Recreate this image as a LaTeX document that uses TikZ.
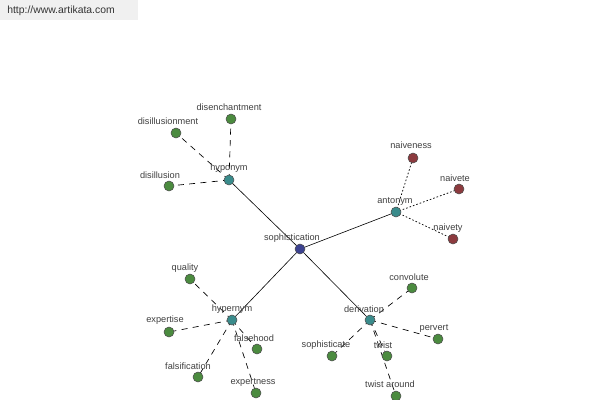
\documentclass[tikz,border=0pt]{standalone}
\usepackage{fontspec}
\setmainfont{Liberation Sans}
\begin{document}
\begin{tikzpicture}[x=0.75pt,y=-0.75pt,
  dot/.style={circle,draw=black!70,line width=0.4pt,minimum size=7.5pt,inner sep=0pt},
  leaf/.style={dot,fill=leafgreen},
  hub/.style={dot,fill=hubteal},
  anto/.style={dot,fill=antored},
  core/.style={dot,fill=corenavy},
  lbl/.style={font=\fontsize{6.9pt}{8pt}\selectfont,text=black!75,inner sep=0pt},
  solidedge/.style={draw=black,line width=0.45pt},
  dashedge/.style={draw=black,line width=0.5pt,dash pattern=on 4.5pt off 4pt},
  dotedge/.style={draw=black,line width=0.55pt,dash pattern=on 1.2pt off 1.5pt}]
\definecolor{leafgreen}{HTML}{4B8B3F}
\definecolor{hubteal}{HTML}{3A8C8C}
\definecolor{antored}{HTML}{8C3A3E}
\definecolor{corenavy}{HTML}{3C4290}
\useasboundingbox (0,0) rectangle (600,400);
\fill[white] (0,0) rectangle (600,400);
\fill[black!6] (0,0) rectangle (138,20);
\node[anchor=west,inner sep=0pt,text=black!80,font=\fontsize{7.8pt}{9pt}\selectfont] (url) at (7,11) {http://www.artikata.com};
% node positions
\coordinate (pc) at (300,249);
\coordinate (phypo) at (229,180);
\coordinate (panto) at (396,212);
\coordinate (phyper) at (232,320);
\coordinate (pderiv) at (370,320);
% edges first
\path[solidedge] (pc) -- (phypo);
\path[solidedge] (pc) -- (panto);
\path[solidedge] (pc) -- (phyper);
\path[solidedge] (pc) -- (pderiv);
\path[dashedge] (phypo) -- (231,119);
\path[dashedge] (phypo) -- (176,133);
\path[dashedge] (phypo) -- (169,186);
\path[dotedge] (panto) -- (413,158);
\path[dotedge] (panto) -- (459,189);
\path[dotedge] (panto) -- (453,239);
\path[dashedge] (phyper) -- (190,279);
\path[dashedge] (phyper) -- (169,332);
\path[dashedge] (phyper) -- (257,349);
\path[dashedge] (phyper) -- (198,377);
\path[dashedge] (phyper) -- (256,393);
\path[dashedge] (pderiv) -- (412,288);
\path[dashedge] (pderiv) -- (438,339);
\path[dashedge] (pderiv) -- (332,356);
\path[dashedge] (pderiv) -- (387,356);
\path[dashedge] (pderiv) -- (396,396);
% nodes
\node[core] (c) at (pc) {};
\node[hub] (hypo) at (phypo) {};
\node[hub] (anto) at (panto) {};
\node[hub] (hyper) at (phyper) {};
\node[hub] (deriv) at (pderiv) {};
\node[leaf] (disen) at (231,119) {};
\node[leaf] (disill) at (176,133) {};
\node[leaf] (disil) at (169,186) {};
\node[anto] (naiveness) at (413,158) {};
\node[anto] (naivete) at (459,189) {};
\node[anto] (naivety) at (453,239) {};
\node[leaf] (quality) at (190,279) {};
\node[leaf] (expertise) at (169,332) {};
\node[leaf] (falsehood) at (257,349) {};
\node[leaf] (falsif) at (198,377) {};
\node[leaf] (expertness) at (256,393) {};
\node[leaf] (convolute) at (412,288) {};
\node[leaf] (pervert) at (438,339) {};
\node[leaf] (sophisticate) at (332,356) {};
\node[leaf] (twist) at (387,356) {};
\node[leaf] (twistaround) at (396,396) {};
% labels
\node[lbl] (lc) at (292,238) {sophistication};
\node[lbl] (lhypo) at (229,168) {hyponym};
\node[lbl] (lanto) at (395,201) {antonym};
\node[lbl] (lhyper) at (232,309) {hypernym};
\node[lbl] (lderiv) at (364,309) {derivation};
\node[lbl] (ldisen) at (229,107) {disenchantment};
\node[lbl] (ldisill) at (168,121) {disillusionment};
\node[lbl] (ldisil) at (160,175) {disillusion};
\node[lbl] (lnaiveness) at (411,145) {naiveness};
\node[lbl] (lnaivete) at (455,178) {naivete};
\node[lbl] (lnaivety) at (448,228) {naivety};
\node[lbl] (lquality) at (185,268) {quality};
\node[lbl] (lexpertise) at (165,320) {expertise};
\node[lbl] (lfalsehood) at (254,338) {falsehood};
\node[lbl] (lfalsif) at (188,366) {falsification};
\node[lbl] (lexpertness) at (253,382) {expertness};
\node[lbl] (lconvolute) at (409,277) {convolute};
\node[lbl] (lpervert) at (434,328) {pervert};
\node[lbl] (lsophisticate) at (326,345) {sophisticate};
\node[lbl] (ltwist) at (383,345) {twist};
\node[lbl] (ltwistaround) at (390,384) {twist around};
\end{tikzpicture}
\end{document}
